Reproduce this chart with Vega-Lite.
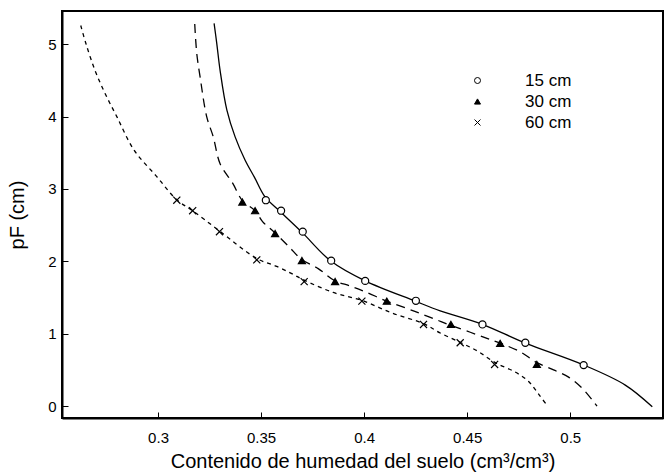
{
  "$schema": "https://vega.github.io/schema/vega-lite/v6.json",
  "autosize": "none",
  "width": 601,
  "height": 407,
  "padding": {"left": 62, "top": 11, "right": 2, "bottom": 58},
  "background": "white",
  "config": {
    "view": {"stroke": "black", "strokeWidth": 2},
    "font": "Liberation Sans",
    "axis": {
      "domainColor": "black",
      "domainWidth": 2,
      "tickColor": "black",
      "tickWidth": 1,
      "tickSize": -6,
      "grid": false,
      "labelColor": "black",
      "labelFont": "Liberation Sans",
      "labelFontSize": 15,
      "titleColor": "black",
      "titleFont": "Liberation Sans",
      "titleFontWeight": "normal",
      "titleFontSize": 20
    },
    "legend": {
      "labelFont": "Liberation Sans",
      "labelFontSize": 17,
      "labelColor": "black",
      "labelOffset": 39,
      "rowPadding": 3,
      "symbolSize": 36,
      "symbolStrokeWidth": 1,
      "symbolStrokeColor": "black",
      "symbolOpacity": 1,
      "padding": 0
    }
  },
  "datasets": {
    "curves": [
      {"depth": "15 cm", "theta": 0.3272, "pF": 5.29},
      {"depth": "15 cm", "theta": 0.3285, "pF": 5.01},
      {"depth": "15 cm", "theta": 0.3301, "pF": 4.64},
      {"depth": "15 cm", "theta": 0.3334, "pF": 4.09},
      {"depth": "15 cm", "theta": 0.3374, "pF": 3.72},
      {"depth": "15 cm", "theta": 0.3422, "pF": 3.40},
      {"depth": "15 cm", "theta": 0.3468, "pF": 3.16},
      {"depth": "15 cm", "theta": 0.3519, "pF": 2.89},
      {"depth": "15 cm", "theta": 0.3592, "pF": 2.69},
      {"depth": "15 cm", "theta": 0.3699, "pF": 2.40},
      {"depth": "15 cm", "theta": 0.3840, "pF": 2.00},
      {"depth": "15 cm", "theta": 0.4005, "pF": 1.73},
      {"depth": "15 cm", "theta": 0.4248, "pF": 1.45},
      {"depth": "15 cm", "theta": 0.4369, "pF": 1.316},
      {"depth": "15 cm", "theta": 0.4573, "pF": 1.13},
      {"depth": "15 cm", "theta": 0.4782, "pF": 0.87},
      {"depth": "15 cm", "theta": 0.5063, "pF": 0.57},
      {"depth": "15 cm", "theta": 0.5267, "pF": 0.29},
      {"depth": "15 cm", "theta": 0.5398, "pF": -0.01},
      {"depth": "30 cm", "theta": 0.3178, "pF": 5.28},
      {"depth": "30 cm", "theta": 0.3188, "pF": 4.87},
      {"depth": "30 cm", "theta": 0.3204, "pF": 4.55},
      {"depth": "30 cm", "theta": 0.3236, "pF": 4.00},
      {"depth": "30 cm", "theta": 0.3268, "pF": 3.72},
      {"depth": "30 cm", "theta": 0.3301, "pF": 3.35},
      {"depth": "30 cm", "theta": 0.3362, "pF": 3.08},
      {"depth": "30 cm", "theta": 0.3409, "pF": 2.84},
      {"depth": "30 cm", "theta": 0.3471, "pF": 2.70},
      {"depth": "30 cm", "theta": 0.3507, "pF": 2.55},
      {"depth": "30 cm", "theta": 0.3565, "pF": 2.40},
      {"depth": "30 cm", "theta": 0.3636, "pF": 2.20},
      {"depth": "30 cm", "theta": 0.3695, "pF": 2.03},
      {"depth": "30 cm", "theta": 0.3777, "pF": 1.90},
      {"depth": "30 cm", "theta": 0.3859, "pF": 1.73},
      {"depth": "30 cm", "theta": 0.3932, "pF": 1.66},
      {"depth": "30 cm", "theta": 0.4005, "pF": 1.58},
      {"depth": "30 cm", "theta": 0.4110, "pF": 1.45},
      {"depth": "30 cm", "theta": 0.4207, "pF": 1.35},
      {"depth": "30 cm", "theta": 0.4272, "pF": 1.28},
      {"depth": "30 cm", "theta": 0.4345, "pF": 1.20},
      {"depth": "30 cm", "theta": 0.4415, "pF": 1.12},
      {"depth": "30 cm", "theta": 0.4515, "pF": 1.02},
      {"depth": "30 cm", "theta": 0.4596, "pF": 0.935},
      {"depth": "30 cm", "theta": 0.4660, "pF": 0.87},
      {"depth": "30 cm", "theta": 0.4757, "pF": 0.75},
      {"depth": "30 cm", "theta": 0.4838, "pF": 0.60},
      {"depth": "30 cm", "theta": 0.4919, "pF": 0.50},
      {"depth": "30 cm", "theta": 0.4992, "pF": 0.40},
      {"depth": "30 cm", "theta": 0.5060, "pF": 0.24},
      {"depth": "30 cm", "theta": 0.5113, "pF": 0.06},
      {"depth": "30 cm", "theta": 0.5130, "pF": 0.0},
      {"depth": "60 cm", "theta": 0.2625, "pF": 5.26},
      {"depth": "60 cm", "theta": 0.2650, "pF": 5.01},
      {"depth": "60 cm", "theta": 0.2694, "pF": 4.64},
      {"depth": "60 cm", "theta": 0.2743, "pF": 4.32},
      {"depth": "60 cm", "theta": 0.2800, "pF": 4.00},
      {"depth": "60 cm", "theta": 0.2883, "pF": 3.54},
      {"depth": "60 cm", "theta": 0.2994, "pF": 3.17},
      {"depth": "60 cm", "theta": 0.3091, "pF": 2.85},
      {"depth": "60 cm", "theta": 0.3168, "pF": 2.70},
      {"depth": "60 cm", "theta": 0.3298, "pF": 2.42},
      {"depth": "60 cm", "theta": 0.3479, "pF": 2.04},
      {"depth": "60 cm", "theta": 0.3576, "pF": 1.93},
      {"depth": "60 cm", "theta": 0.3649, "pF": 1.83},
      {"depth": "60 cm", "theta": 0.3709, "pF": 1.74},
      {"depth": "60 cm", "theta": 0.3850, "pF": 1.57},
      {"depth": "60 cm", "theta": 0.3989, "pF": 1.46},
      {"depth": "60 cm", "theta": 0.4140, "pF": 1.28},
      {"depth": "60 cm", "theta": 0.4288, "pF": 1.14},
      {"depth": "60 cm", "theta": 0.4369, "pF": 1.01},
      {"depth": "60 cm", "theta": 0.4466, "pF": 0.88},
      {"depth": "60 cm", "theta": 0.4550, "pF": 0.76},
      {"depth": "60 cm", "theta": 0.4636, "pF": 0.60},
      {"depth": "60 cm", "theta": 0.4733, "pF": 0.47},
      {"depth": "60 cm", "theta": 0.4798, "pF": 0.34},
      {"depth": "60 cm", "theta": 0.4850, "pF": 0.15},
      {"depth": "60 cm", "theta": 0.4890, "pF": 0.0}
    ],
    "points": [
      {"depth": "15 cm", "theta": 0.3523, "pF": 2.845},
      {"depth": "15 cm", "theta": 0.3597, "pF": 2.70},
      {"depth": "15 cm", "theta": 0.3702, "pF": 2.41},
      {"depth": "15 cm", "theta": 0.3840, "pF": 2.01},
      {"depth": "15 cm", "theta": 0.4005, "pF": 1.73},
      {"depth": "15 cm", "theta": 0.4251, "pF": 1.455},
      {"depth": "15 cm", "theta": 0.4574, "pF": 1.128},
      {"depth": "15 cm", "theta": 0.4782, "pF": 0.875},
      {"depth": "15 cm", "theta": 0.5065, "pF": 0.566},
      {"depth": "30 cm", "theta": 0.3409, "pF": 2.82},
      {"depth": "30 cm", "theta": 0.3471, "pF": 2.70},
      {"depth": "30 cm", "theta": 0.3568, "pF": 2.385},
      {"depth": "30 cm", "theta": 0.3698, "pF": 2.01},
      {"depth": "30 cm", "theta": 0.3859, "pF": 1.72},
      {"depth": "30 cm", "theta": 0.4110, "pF": 1.45},
      {"depth": "30 cm", "theta": 0.4421, "pF": 1.128},
      {"depth": "30 cm", "theta": 0.4660, "pF": 0.866},
      {"depth": "30 cm", "theta": 0.4838, "pF": 0.575},
      {"depth": "60 cm", "theta": 0.3091, "pF": 2.845},
      {"depth": "60 cm", "theta": 0.3168, "pF": 2.70},
      {"depth": "60 cm", "theta": 0.3298, "pF": 2.41},
      {"depth": "60 cm", "theta": 0.3479, "pF": 2.02},
      {"depth": "60 cm", "theta": 0.3709, "pF": 1.72},
      {"depth": "60 cm", "theta": 0.3989, "pF": 1.45},
      {"depth": "60 cm", "theta": 0.4288, "pF": 1.128},
      {"depth": "60 cm", "theta": 0.4466, "pF": 0.875},
      {"depth": "60 cm", "theta": 0.4633, "pF": 0.575}
    ]
  },
  "encoding": {
    "x": {
      "field": "theta",
      "type": "quantitative",
      "scale": {"domain": [0.2534, 0.545], "nice": false, "zero": false},
      "axis": {
        "values": [0.3, 0.35, 0.4, 0.45, 0.5],
        "format": "~g",
        "labelPadding": 18,
        "labelFlush": false,
        "title": "Contenido de humedad del suelo (cm³/cm³)",
        "titleY": 49,
        "titleBaseline": "alphabetic"
      }
    },
    "y": {
      "field": "pF",
      "type": "quantitative",
      "scale": {"domain": [-0.165, 5.46], "nice": false, "zero": false},
      "axis": {
        "values": [0, 1, 2, 3, 4, 5],
        "format": "d",
        "labelPadding": 12,
        "labelFlush": false,
        "title": "pF (cm)",
        "titleX": -45,
        "titleY": 203.5,
        "titleBaseline": "middle",
        "titleAlign": "center",
        "titleAngle": -90
      }
    }
  },
  "layer": [
    {
      "data": {"name": "curves"},
      "transform": [{"filter": "datum.depth === '15 cm'"}],
      "mark": {"type": "line", "color": "black", "strokeWidth": 1.3, "interpolate": "catmull-rom", "clip": true},
      "encoding": {}
    },
    {
      "data": {"name": "curves"},
      "transform": [{"filter": "datum.depth === '30 cm'"}],
      "mark": {"type": "line", "color": "black", "strokeWidth": 1.3, "strokeDash": [9, 6], "interpolate": "catmull-rom", "clip": true},
      "encoding": {}
    },
    {
      "data": {"name": "curves"},
      "transform": [{"filter": "datum.depth === '60 cm'"}],
      "mark": {"type": "line", "color": "black", "strokeWidth": 1.3, "strokeDash": [4, 4], "interpolate": "catmull-rom", "clip": true},
      "encoding": {}
    },
    {
      "data": {"name": "points"},
      "mark": {"type": "point", "filled": true, "stroke": "black", "strokeWidth": 1.2, "size": 50, "opacity": 1},
      "encoding": {
        "shape": {
          "field": "depth",
          "type": "nominal",
          "scale": {"domain": ["15 cm", "30 cm", "60 cm"], "range": ["circle", "triangle-up", "M-1,-1L1,1M-1,1L1,-1"]},
          "legend": {
            "title": null, "orient": "none", "legendX": 407, "legendY": 61,
            "symbolStrokeColor": "black",
            "encode": {"symbols": {"update": {"stroke": {"value": "black"}, "strokeWidth": {"value": 1}}}}
          }
        },
        "fill": {
          "field": "depth",
          "type": "nominal",
          "scale": {"domain": ["15 cm", "30 cm", "60 cm"], "range": ["white", "black", "white"]},
          "legend": {
            "title": null, "orient": "none", "legendX": 407, "legendY": 61,
            "symbolStrokeColor": "black",
            "encode": {"symbols": {"update": {"stroke": {"value": "black"}, "strokeWidth": {"value": 1}}}}
          }
        }
      }
    }
  ]
}
